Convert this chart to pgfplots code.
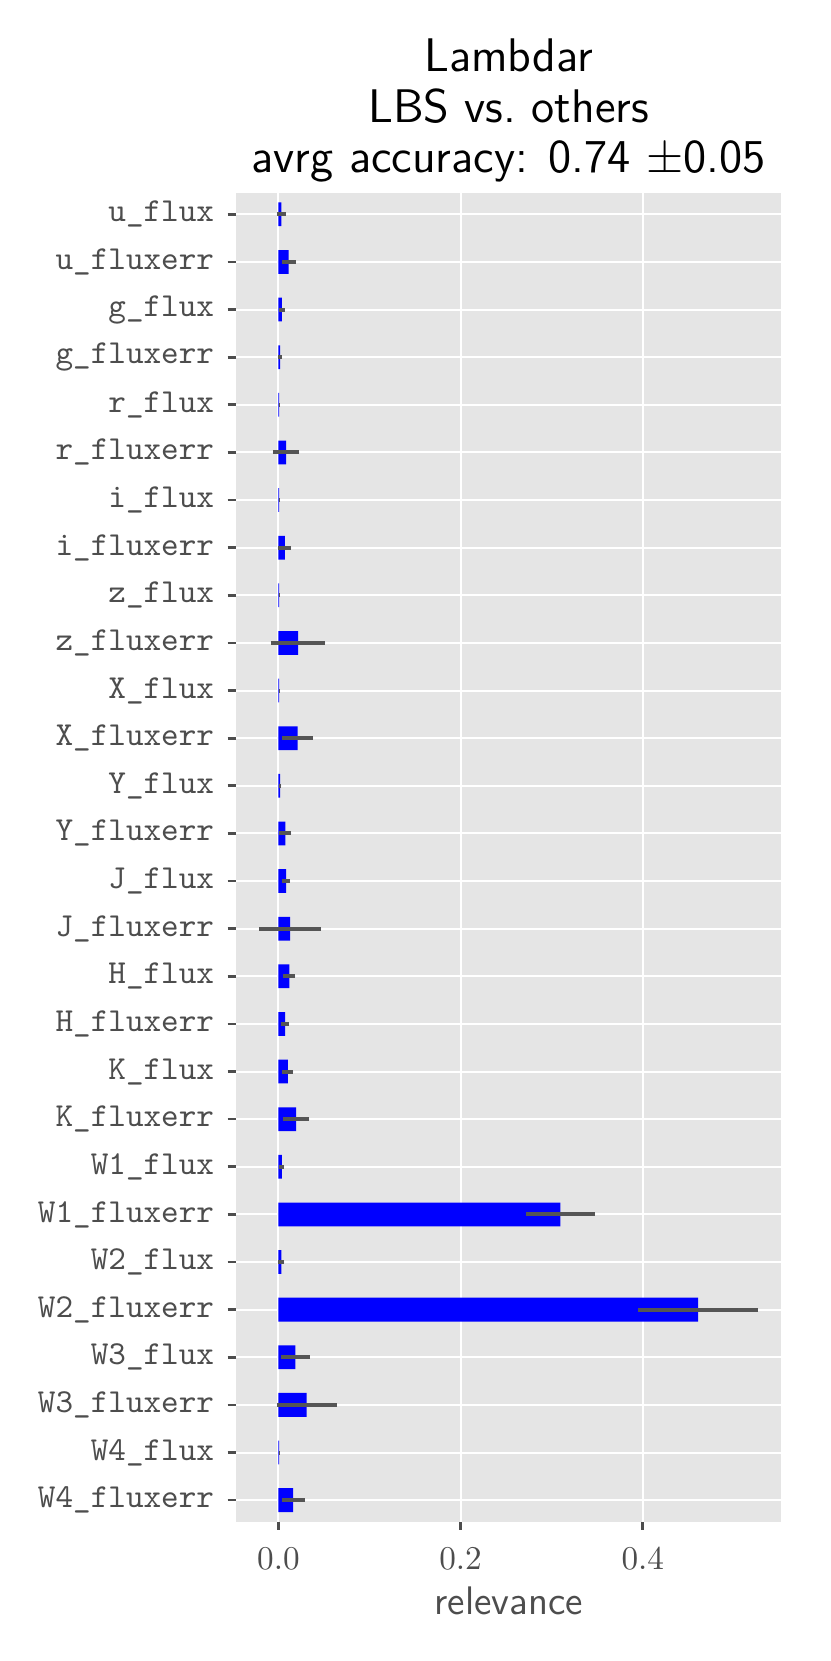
\documentclass[border=0pt]{standalone}
\usepackage{fontspec}
\usepackage{pgfplots}
\pgfplotsset{compat=1.18}
\usepackage{pgfplotstable}
\definecolor{panelbg}{RGB}{229,229,229}
\definecolor{tickgray}{RGB}{77,77,77}
\definecolor{errgray}{RGB}{85,85,85}

% relevance per feature, index 0 = top row
\pgfplotstableread{
i v e
0 0.0033 0.0050
1 0.0113 0.0075
2 0.0037 0.0035
3 0.0018 0.0017
4 0.0007 0.0004
5 0.0084 0.0147
6 0.0007 0.0004
7 0.0070 0.0071
8 0.0007 0.0005
9 0.0216 0.0299
10 0.0007 0.0005
11 0.0212 0.0168
12 0.0018 0.0015
13 0.0077 0.0066
14 0.0084 0.0044
15 0.0128 0.0340
16 0.0121 0.0066
17 0.0073 0.0042
18 0.0103 0.0060
19 0.0194 0.0147
20 0.0037 0.0026
21 0.3095 0.0379
22 0.0033 0.0033
23 0.4609 0.0657
24 0.0187 0.0158
25 0.0311 0.0328
26 0.0007 0.0005
27 0.0161 0.0126
}\relevance

\begin{document}
\begin{tikzpicture}
\begin{axis}[
  name=ax,
  scale only axis,
  width=164.2pt, height=400.2pt,
  xmin=-0.0465, xmax=0.552,
  ymin=-0.45, ymax=27.45,
  y dir=reverse,
  axis background/.style={fill=panelbg},
  axis line style={draw=none},
  xtick={0,0.2,0.4},
  xticklabels={$0.0$,$0.2$,$0.4$},
  ytick={0,...,27},
  yticklabels={u\_flux,u\_fluxerr,g\_flux,g\_fluxerr,r\_flux,r\_fluxerr,i\_flux,i\_fluxerr,z\_flux,z\_fluxerr,X\_flux,X\_fluxerr,Y\_flux,Y\_fluxerr,J\_flux,J\_fluxerr,H\_flux,H\_fluxerr,K\_flux,K\_fluxerr,W1\_flux,W1\_fluxerr,W2\_flux,W2\_fluxerr,W3\_flux,W3\_fluxerr,W4\_flux,W4\_fluxerr},
  tick align=outside,
  tick pos=left,
  major tick length=2.5pt,
  tick style={draw=tickgray, line width=0.8pt},
  grid=major,
  major grid style={draw=white, line width=0.6pt},
  yticklabel style={font=\fontsize{10.1}{12}\selectfont\ttfamily, text=tickgray, xshift=-0.6pt},
  xticklabel style={font=\fontsize{10}{12}\selectfont, text=tickgray, yshift=-2pt},
  xlabel={relevance},
  xlabel style={font=\sffamily\fontsize{12}{14}\selectfont, text=tickgray,
    at={(axis description cs:0.5,0)}, anchor=base, yshift=-28pt},
  clip=false,
]
\addplot[xbar, bar width=0.5, fill=blue, draw=none,
  error bars/.cd, x dir=both, x explicit, error mark=none,
  error bar style={draw=errgray, line width=1.2pt}]
  table[x=v, y=i, x error=e] {\relevance};
\end{axis}
\begin{scope}[font=\sffamily\fontsize{14.2}{15}\selectfont]
\node[anchor=base, inner sep=0pt] at ([yshift=36.6pt]ax.north) {Lambdar};
\node[anchor=base, inner sep=0pt] at ([yshift=21.3pt]ax.north) {LBS vs.\ others};
\node[anchor=base, inner sep=0pt] at ([yshift=6pt]ax.north) {avrg accuracy: 0.74 $\pm$0.05};
\end{scope}
\pgfresetboundingbox
\path[use as bounding box] (-71.1pt,-42pt) rectangle (178.9pt,458.3pt);
\end{tikzpicture}
\end{document}
